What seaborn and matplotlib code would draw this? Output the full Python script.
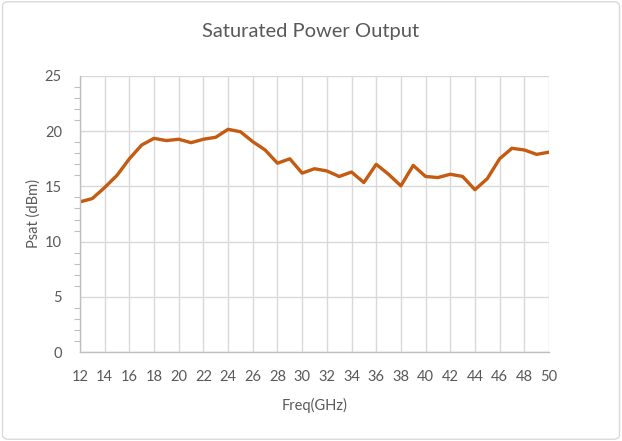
import numpy as np
import pandas as pd
import seaborn as sns
import matplotlib.pyplot as plt
from matplotlib.patches import FancyBboxPatch
from matplotlib.ticker import MultipleLocator

# measured saturated output power, 1 GHz steps
freq = list(range(12, 51))
psat = [13.6, 13.9, 14.9, 16.0, 17.5, 18.75, 19.35, 19.15, 19.27, 18.96,
        19.27, 19.45, 20.17, 19.95, 19.05, 18.3, 17.1, 17.5, 16.2, 16.6,
        16.4, 15.9, 16.3, 15.35, 17.0, 16.1, 15.05, 16.9, 15.9, 15.8,
        16.1, 15.9, 14.7, 15.7, 17.5, 18.45, 18.3, 17.9, 18.1]

df = pd.DataFrame({'Freq(GHz)': freq, 'Psat (dBm)': psat})

sns.set_theme(style="whitegrid")
plt.rcParams['font.family'] = ['Lato', 'DejaVu Sans']

fig = plt.figure(figsize=(6.22, 4.41), dpi=100)
ax = fig.add_axes([0.1286, 0.2018, 0.754, 0.6259])

sns.lineplot(data=df, x='Freq(GHz)', y='Psat (dBm)', color='#C55A11',
             linewidth=2.4, ax=ax, solid_joinstyle='round', solid_capstyle='round')

ax.set_xlim(12, 50)
ax.set_ylim(0, 25)
ax.set_xticks(range(12, 51, 2))
ax.set_yticks(range(0, 26, 5))
ax.yaxis.set_minor_locator(MultipleLocator(1))
ax.tick_params(axis='both', labelsize=10.5, labelcolor='#595959', pad=7)
ax.tick_params(axis='y', which='minor', length=4, color='#bfbfbf', width=0.8, direction='out', left=True)
ax.grid(True, color='#d9d9d9', linewidth=1)
ax.grid(False, which='minor')
for s in ['top', 'right']:
    ax.spines[s].set_visible(False)
for s in ['left', 'bottom']:
    ax.spines[s].set_color('#bfbfbf')
    ax.spines[s].set_linewidth(1)

ax.set_xlabel('Freq(GHz)', fontsize=10.5, color='#595959', labelpad=10)
ax.set_ylabel('Psat (dBm)', fontsize=10.5, color='#595959', labelpad=3)
fig.suptitle('Saturated Power Output', fontsize=14.5, color='#595959', y=0.948)

# chart area border
fig.patches.append(FancyBboxPatch((0.004, 0.004), 0.992, 0.992, boxstyle='round,pad=0,rounding_size=0.01',
                                  transform=fig.transFigure, fill=False, edgecolor='#d9d9d9', linewidth=1))

fig.savefig('out.png', dpi=100)
